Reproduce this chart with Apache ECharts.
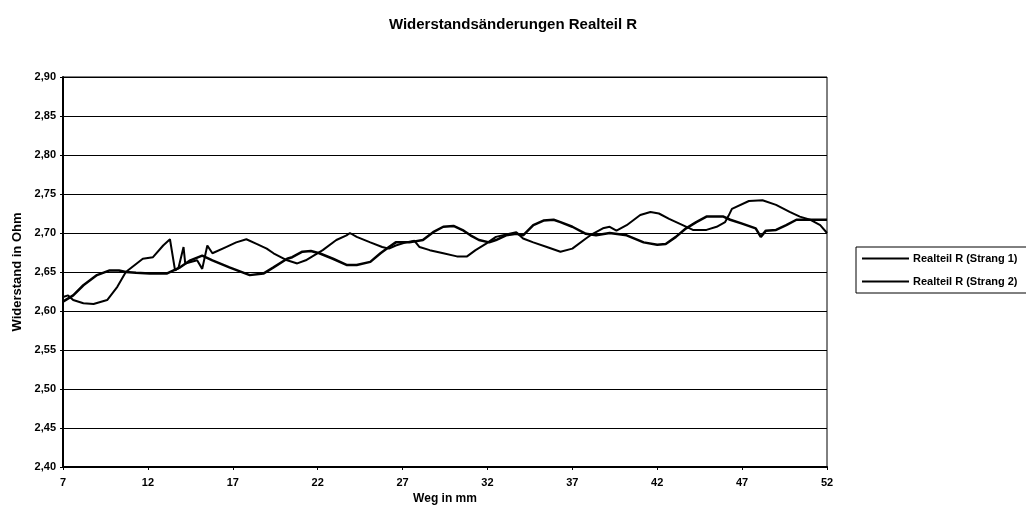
<!DOCTYPE html>
<html>
<head>
<meta charset="utf-8">
<script src="https://cdn.jsdelivr.net/npm/echarts@6/dist/echarts.min.js"></script>
<style>
html,body{margin:0;padding:0;background:#fff;}
#chart{width:1026px;height:515px;}
</style>
</head>
<body>
<div id="chart"></div>
<script>
var titleText = 'Widerstandsänderungen Realteil R';
var xAxisName = 'Weg in mm';
var yAxisName = 'Widerstand in Ohm';
var seriesNames = ['Realteil R (Strang 1)', 'Realteil R (Strang 2)'];
var xTicks = [7, 12, 17, 22, 27, 32, 37, 42, 47, 52];

var strang1X = [7.0, 7.6, 8.2, 9.0, 9.75, 10.3, 10.7, 11.3, 12.1, 13.1, 13.9, 14.5, 15.2, 15.8, 16.8, 18.0, 18.8, 19.4, 20.2, 20.5, 21.1, 21.6, 22.1, 22.9, 23.7, 24.3, 25.1, 25.7, 26.2, 26.6, 27.4, 28.2, 28.8, 29.4, 30.0, 30.6, 31.0, 31.5, 32.1, 32.5, 33.1, 33.7, 34.1, 34.7, 35.3, 35.9, 36.3, 37.0, 37.8, 38.4, 39.2, 40.2, 41.2, 42.0, 42.5, 43.1, 43.7, 44.3, 44.9, 45.9, 46.3, 47.0, 47.8, 48.1, 48.4, 49.0, 49.6, 50.2, 50.8, 51.4, 52.0];
var strang1Y = [2.612, 2.620, 2.633, 2.646, 2.652, 2.652, 2.650, 2.649, 2.648, 2.648, 2.656, 2.665, 2.671, 2.665, 2.656, 2.646, 2.648, 2.656, 2.667, 2.669, 2.676, 2.677, 2.674, 2.667, 2.659, 2.659, 2.663, 2.674, 2.682, 2.688, 2.688, 2.691, 2.701, 2.708, 2.709, 2.703, 2.697, 2.691, 2.688, 2.691, 2.697, 2.699, 2.697, 2.710, 2.716, 2.717, 2.714, 2.708, 2.699, 2.697, 2.700, 2.697, 2.688, 2.685, 2.686, 2.695, 2.706, 2.714, 2.721, 2.721, 2.717, 2.712, 2.706, 2.695, 2.703, 2.704, 2.710, 2.717, 2.717, 2.717, 2.717];

var strang2X = [7.0, 7.3, 7.6, 8.2, 8.8, 9.6, 10.2, 10.7, 11.7, 12.3, 12.9, 13.3, 13.6, 13.8, 14.1, 14.2, 14.9, 15.2, 15.5, 15.8, 16.6, 17.2, 17.8, 18.4, 19.0, 19.4, 20.2, 20.8, 21.3, 22.3, 23.1, 23.7, 23.9, 24.3, 25.1, 25.8, 26.2, 26.6, 27.2, 27.7, 28.0, 28.6, 29.4, 30.2, 30.8, 31.3, 31.9, 32.5, 33.3, 33.7, 34.1, 34.7, 35.5, 36.3, 37.0, 37.8, 38.2, 38.8, 39.2, 39.6, 40.2, 41.0, 41.6, 42.1, 42.7, 43.5, 44.1, 44.9, 45.5, 46.0, 46.2, 46.4, 47.4, 48.2, 49.0, 49.8, 50.4, 51.0, 51.6, 52.0];
var strang2Y = [2.618, 2.620, 2.614, 2.610, 2.609, 2.614, 2.631, 2.650, 2.667, 2.669, 2.684, 2.692, 2.652, 2.655, 2.682, 2.661, 2.665, 2.654, 2.684, 2.674, 2.682, 2.688, 2.692, 2.686, 2.680, 2.674, 2.665, 2.661, 2.665, 2.678, 2.691, 2.697, 2.700, 2.695, 2.688, 2.682, 2.680, 2.684, 2.688, 2.690, 2.682, 2.678, 2.674, 2.670, 2.670, 2.678, 2.686, 2.695, 2.699, 2.701, 2.693, 2.688, 2.682, 2.676, 2.680, 2.693, 2.699, 2.706, 2.708, 2.703, 2.710, 2.723, 2.727, 2.725, 2.718, 2.710, 2.704, 2.704, 2.708, 2.714, 2.722, 2.731, 2.741, 2.742, 2.736, 2.727, 2.721, 2.717, 2.710, 2.700];

function pairs(xs, ys) {
  return xs.map(function (x, i) { return [x, ys[i]]; });
}

var FONT = '"Liberation Sans", Arial, sans-serif';
var chart = echarts.init(document.getElementById('chart'), null, {renderer: 'canvas'});
chart.setOption({
  backgroundColor: '#ffffff',
  animation: false,
  title: {
    text: titleText,
    left: 'center',
    top: 12,
    textStyle: {fontFamily: FONT, fontSize: 15, fontWeight: 'bold', color: '#000'}
  },
  legend: {
    orient: 'vertical',
    left: 856,
    top: 247,
    padding: [6, 10, 6, 5],
    itemWidth: 47,
    itemHeight: 10,
    itemGap: 12,
    borderColor: '#000',
    borderWidth: 1,
    itemStyle: {opacity: 0},
    textStyle: {fontFamily: FONT, fontSize: 11, fontWeight: 'bold', color: '#000', padding: [0, 0, 0, -1]},
    data: seriesNames
  },
  grid: {
    left: 63, right: 199, top: 77, bottom: 48,
    outerBoundsMode: 'none',
    containLabel: false,
    show: true, borderColor: '#000', borderWidth: 1
  },
  xAxis: {
    type: 'value',
    min: 7,
    max: 52,
    name: xAxisName,
    nameLocation: 'middle',
    nameGap: 25,
    nameTextStyle: {fontFamily: FONT, fontSize: 12, fontWeight: 'bold', color: '#000'},
    axisLine: {show: true, onZero: false, lineStyle: {color: '#000', width: 2}},
    axisTick: {show: true, length: 3, customValues: xTicks, lineStyle: {color: '#000'}},
    axisLabel: {customValues: xTicks, margin: 10, fontFamily: FONT, fontSize: 11, fontWeight: 'bold', color: '#000'},
    splitLine: {show: false}
  },
  yAxis: {
    type: 'value',
    min: 2.40,
    max: 2.90,
    interval: 0.05,
    name: yAxisName,
    nameLocation: 'middle',
    nameGap: 37,
    nameTextStyle: {fontFamily: FONT, fontSize: 13, fontWeight: 'bold', color: '#000'},
    axisLine: {show: true, lineStyle: {color: '#000', width: 2}},
    axisTick: {show: true, length: 3, lineStyle: {color: '#000'}},
    axisLabel: {
      margin: 7, fontFamily: FONT, fontSize: 11, fontWeight: 'bold', color: '#000',
      formatter: function (v) { return v.toFixed(2).replace('.', ','); }
    },
    splitLine: {show: true, lineStyle: {color: '#000', width: 1}}
  },
  series: [
    {
      name: seriesNames[0],
      type: 'line',
      symbol: 'none',
      data: pairs(strang1X, strang1Y),
      lineStyle: {color: '#000', width: 2.5},
      itemStyle: {color: '#000'}
    },
    {
      name: seriesNames[1],
      type: 'line',
      symbol: 'none',
      data: pairs(strang2X, strang2Y),
      lineStyle: {color: '#000', width: 2},
      itemStyle: {color: '#000'}
    }
  ]
});
</script>
</body>
</html>
